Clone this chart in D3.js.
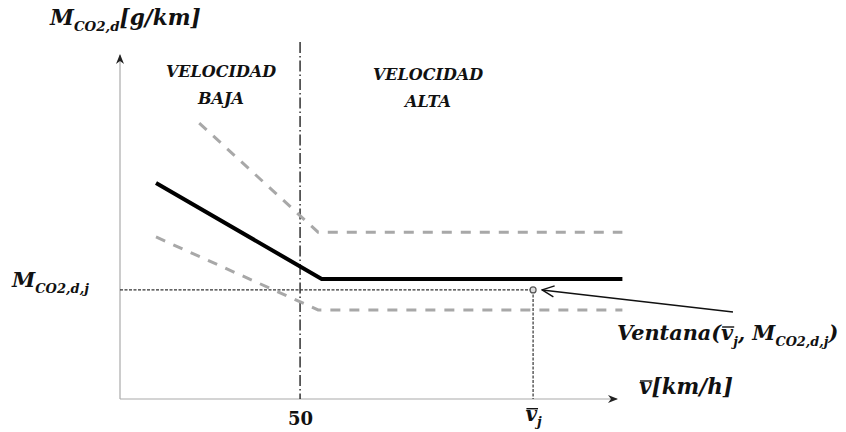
<!DOCTYPE html>
<html>
<head>
<meta charset="utf-8">
<script src="https://cdn.jsdelivr.net/npm/d3@7"></script>
<style>
  html, body { margin: 0; padding: 0; background: #fff; }
  svg { display: block; }
  .math { font-family: "DejaVu Serif", serif; font-weight: bold; font-style: italic; fill: #111; }
  .num { font-family: "DejaVu Serif", serif; font-weight: bold; fill: #111; }
</style>
</head>
<body>
<svg id="chart" width="846" height="432"></svg>
<script>
// Speed (km/h) and emission factor (g/km, relative units) of the model curves
const thresholdSpeed = 50;
const nominalSpeed = [10, 56, 139.5];
const nominalEmission = [62.8, 34.9, 34.9];
const upperSpeed = [22, 55, 139.5];
const upperEmission = [80.2, 48.5, 48.5];
const lowerSpeed = [10, 55, 139.5];
const lowerEmission = [47.1, 25.9, 25.9];
// Observed window: mean speed and emission
const windowSpeed = 114.7;
const windowEmission = 31.7;
const xTicks = [thresholdSpeed, windowSpeed];

const svg = d3.select("#chart");
const x = d3.scaleLinear().domain([0, 138]).range([120, 617]);
const y = d3.scaleLinear().domain([0, 100]).range([399, 55]);

const pts = (vs, ms) => vs.map((v, i) => [v, ms[i]]);
const line = d3.line().x(d => x(d[0])).y(d => y(d[1]));

// arrow markers
const defs = svg.append("defs");
defs.append("marker").attr("id", "axisHead")
  .attr("viewBox", "0 0 10 10").attr("refX", 9).attr("refY", 5)
  .attr("markerWidth", 10).attr("markerHeight", 10).attr("markerUnits", "userSpaceOnUse")
  .attr("orient", "auto")
  .append("path").attr("d", "M0,1 L10,5 L0,9 L3,5 Z").attr("fill", "#222");
defs.append("marker").attr("id", "openHead")
  .attr("viewBox", "0 0 14 14").attr("refX", 13).attr("refY", 7)
  .attr("markerWidth", 14).attr("markerHeight", 14).attr("markerUnits", "userSpaceOnUse")
  .attr("orient", "auto")
  .append("path").attr("d", "M1,1.5 L13,7 L1,12.5").attr("fill", "none")
  .attr("stroke", "#111").attr("stroke-width", 1.4);

// axes
svg.append("line").attr("x1", x(0)).attr("y1", y(0)).attr("x2", x(138)).attr("y2", y(0))
  .attr("stroke", "#aaa").attr("stroke-width", 1.2).attr("marker-end", "url(#axisHead)");
svg.append("line").attr("x1", x(0)).attr("y1", y(0)).attr("x2", x(0)).attr("y2", y(100))
  .attr("stroke", "#aaa").attr("stroke-width", 1.2).attr("marker-end", "url(#axisHead)");

// regime boundary
svg.append("line").attr("x1", x(thresholdSpeed)).attr("x2", x(thresholdSpeed))
  .attr("y1", 42).attr("y2", y(0))
  .attr("stroke", "#222").attr("stroke-width", 1.4).attr("stroke-dasharray", "11,3,1.5,3");

// reference lines to the observed window
svg.append("line").attr("x1", x(0)).attr("x2", x(windowSpeed))
  .attr("y1", y(windowEmission)).attr("y2", y(windowEmission))
  .attr("stroke", "#333").attr("stroke-width", 1.2).attr("stroke-dasharray", "3,1.5");
svg.append("line").attr("x1", x(windowSpeed)).attr("x2", x(windowSpeed))
  .attr("y1", y(windowEmission)).attr("y2", y(0))
  .attr("stroke", "#333").attr("stroke-width", 1.2).attr("stroke-dasharray", "3,1.5");

// band limits
[pts(upperSpeed, upperEmission), pts(lowerSpeed, lowerEmission)].forEach(d => {
  svg.append("path").attr("d", line(d)).attr("fill", "none")
    .attr("stroke", "#a8a8a8").attr("stroke-width", 3).attr("stroke-dasharray", "10,9");
});

// nominal curve
svg.append("path").attr("d", line(pts(nominalSpeed, nominalEmission))).attr("fill", "none")
  .attr("stroke", "#000").attr("stroke-width", 4).attr("stroke-linejoin", "miter");

// window point
svg.append("circle").attr("cx", x(windowSpeed)).attr("cy", y(windowEmission)).attr("r", 3)
  .attr("fill", "#ddd").attr("stroke", "#555").attr("stroke-width", 1.2);

// annotation arrow
svg.append("line").attr("x1", 733).attr("y1", 312)
  .attr("x2", x(windowSpeed) + 9).attr("y2", y(windowEmission))
  .attr("stroke", "#111").attr("stroke-width", 1.5).attr("marker-end", "url(#openHead)");

// overbar drawn over the glyphs of a tspan
function overbar(textSel, tspanSel) {
  const node = tspanSel.node();
  const n = node.getNumberOfChars();
  if (!n) return;
  const s = node.getStartPositionOfChar(0), e = node.getEndPositionOfChar(n - 1);
  const bb = node.getBBox();
  const g = d3.select(textSel.node().parentNode);
  g.append("line").attr("x1", s.x + 1).attr("x2", e.x + 1)
    .attr("y1", bb.y + bb.height * 0.28).attr("y2", bb.y + bb.height * 0.28)
    .attr("stroke", "#111").attr("stroke-width", 1.4);
}

// x ticks labels
const xAxis = d3.axisBottom(x).tickValues(xTicks).tickSize(0).tickPadding(0)
  .tickFormat(d => d === thresholdSpeed ? String(d) : "");
const gx = svg.append("g").attr("transform", `translate(0,${y(0)})`).call(xAxis);
gx.select(".domain").remove();
gx.selectAll(".tick text").attr("class", "num").attr("font-size", 18)
  .attr("dy", null).attr("y", 26);
gx.selectAll(".tick").filter(d => d === windowSpeed).select("text")
  .attr("class", "math").attr("y", 22).call(t => {
    const v = t.append("tspan").text("v").attr("font-size", 20);
    t.append("tspan").text("j").attr("font-size", 13).attr("dy", 5);
    overbar(t, v);
  });

// helper for subscripted labels
function mathLabel(parent, xPos, yPos, parts, size) {
  const t = parent.append("text").attr("class", "math").attr("x", xPos).attr("y", yPos)
    .attr("font-size", size);
  let shift = 0;
  const bars = [];
  parts.forEach(p => {
    const ts = t.append("tspan").text(p.t);
    const want = p.sub ? 6 : 0;
    if (want !== shift) { ts.attr("dy", want - shift); shift = want; }
    if (p.sub) ts.attr("font-size", size * 0.62);
    if (p.bar) bars.push(ts);
  });
  bars.forEach(b => overbar(t, b));
  return t;
}

mathLabel(svg, 50, 25, [{t: "M"}, {t: "CO", sub: true}, {t: "2", sub: true}, {t: ",d", sub: true}, {t: "[g/km]"}], 21.6);
mathLabel(svg, 12, 287, [{t: "M"}, {t: "CO", sub: true}, {t: "2", sub: true}, {t: ",d,j", sub: true}], 21);
mathLabel(svg, 639, 394, [{t: "v", bar: true}, {t: "[km/h]"}], 21.5);
mathLabel(svg, 617, 340, [{t: "Ventana("}, {t: "v", bar: true}, {t: "j", sub: true}, {t: ", M"}, {t: "CO", sub: true}, {t: "2", sub: true}, {t: ",d,j", sub: true}, {t: ")"}], 20.8);

// regime labels
const regime = [
  {cx: 221, lines: ["VELOCIDAD", "BAJA"], y0: 77},
  {cx: 428, lines: ["VELOCIDAD", "ALTA"], y0: 80}
];
regime.forEach(r => {
  r.lines.forEach((s, i) => {
    svg.append("text").attr("class", "math").attr("font-size", 16)
      .attr("text-anchor", "middle").attr("x", r.cx).attr("y", r.y0 + i * 27).text(s);
  });
});
</script>
</body>
</html>
